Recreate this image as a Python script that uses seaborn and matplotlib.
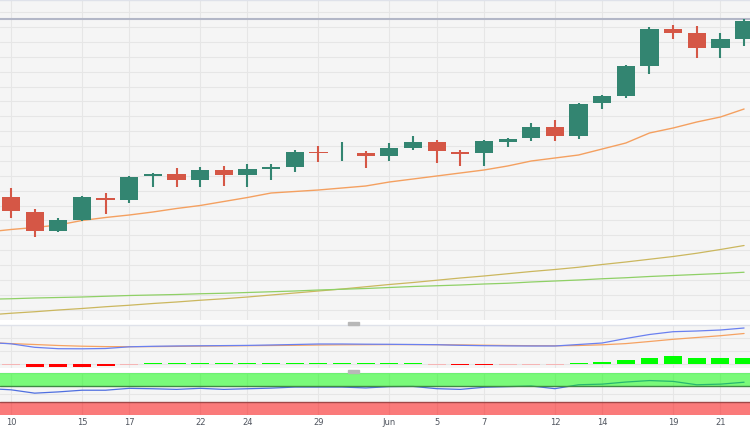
import numpy as np
import pandas as pd
import matplotlib
matplotlib.use("Agg")
import matplotlib.pyplot as plt
import seaborn as sns
from matplotlib.patches import Rectangle

# ---------------- data ----------------
dates = ["2023-05-10", "2023-05-11", "2023-05-12", "2023-05-15", "2023-05-16", "2023-05-17",
         "2023-05-18", "2023-05-19", "2023-05-22", "2023-05-23", "2023-05-24", "2023-05-25",
         "2023-05-26", "2023-05-29", "2023-05-30", "2023-05-31", "2023-06-01", "2023-06-02",
         "2023-06-05", "2023-06-06", "2023-06-07", "2023-06-08", "2023-06-09", "2023-06-12",
         "2023-06-13", "2023-06-14", "2023-06-15", "2023-06-16", "2023-06-19", "2023-06-20",
         "2023-06-21", "2023-06-22"]
tick_dates = ["2023-05-10", "2023-05-15", "2023-05-17", "2023-05-22", "2023-05-24", "2023-05-29",
              "2023-06-01", "2023-06-05", "2023-06-07", "2023-06-12", "2023-06-14", "2023-06-19",
              "2023-06-21"]
tick_labels = ["10", "15", "17", "22", "24", "29", "Jun", "5", "7", "12", "14", "19", "21"]

opens = [135.32, 134.72, 133.96, 134.40, 135.28, 135.20, 136.16, 136.24, 136.00, 136.40, 136.20,
         136.44, 136.52, 137.12, 137.08, 137.08, 136.96, 137.28, 137.52, 137.12, 137.08, 137.52,
         137.68, 138.12, 137.76, 139.08, 139.36, 140.56, 142.04, 141.88, 141.28, 141.64]
highs = [135.68, 134.84, 134.48, 135.36, 135.48, 136.16, 136.28, 136.48, 136.52, 136.56, 136.64,
         136.64, 137.20, 137.36, 137.52, 137.16, 137.48, 137.76, 137.60, 137.20, 137.60, 137.68,
         138.28, 138.40, 139.08, 139.40, 140.60, 142.12, 142.20, 142.16, 141.88, 142.44]
lows = [134.48, 133.72, 133.92, 134.36, 134.64, 135.08, 135.72, 135.72, 135.72, 135.76, 135.72,
        136.00, 136.32, 136.72, 136.76, 136.48, 136.76, 137.20, 136.68, 136.56, 136.56, 137.32,
        137.56, 137.56, 137.64, 138.84, 139.28, 140.24, 141.64, 140.88, 140.88, 141.36]
closes = [134.76, 133.96, 134.40, 135.32, 135.20, 136.12, 136.24, 136.00, 136.40, 136.20, 136.44,
          136.52, 137.12, 137.08, 137.10, 136.96, 137.28, 137.52, 137.16, 137.04, 137.56, 137.64,
          138.12, 137.76, 139.04, 139.36, 140.56, 142.04, 141.88, 141.28, 141.64, 142.36]

resistance = 142.45

# indicator series start one session earlier (2023-05-09)
ind_dates = ["2023-05-09"] + dates
sma20 = [133.92, 134.02, 134.10, 134.20, 134.38, 134.50, 134.60, 134.72, 134.86, 134.98, 135.14,
         135.30, 135.48, 135.54, 135.60, 135.68, 135.76, 135.92, 136.04, 136.16, 136.28, 136.40,
         136.56, 136.76, 136.88, 137.00, 137.24, 137.48, 137.88, 138.08, 138.32, 138.52, 138.84]
sma200 = [131.23, 131.25, 131.28, 131.30, 131.32, 131.35, 131.38, 131.40, 131.42, 131.45, 131.47,
          131.50, 131.53, 131.56, 131.60, 131.63, 131.66, 131.70, 131.74, 131.77, 131.80, 131.84,
          131.87, 131.92, 131.96, 132.00, 132.05, 132.09, 132.14, 132.18, 132.22, 132.26, 132.31]
sma100 = [130.60, 130.67, 130.73, 130.80, 130.86, 130.93, 130.99, 131.06, 131.12, 131.19, 131.25,
          131.32, 131.40, 131.48, 131.56, 131.64, 131.73, 131.82, 131.90, 131.99, 132.08, 132.16,
          132.25, 132.34, 132.42, 132.51, 132.62, 132.72, 132.83, 132.94, 133.07, 133.22, 133.38]
macd_line = [1.09, 1.025, 0.85, 0.78, 0.775, 0.79, 0.875, 0.90, 0.915, 0.925, 0.935, 0.945, 0.965,
             0.99, 1.015, 1.015, 1.005, 1.00, 0.99, 0.98, 0.95, 0.93, 0.92, 0.915, 0.915, 0.99,
             1.065, 1.29, 1.49, 1.63, 1.665, 1.715, 1.815]
signal_line = [1.09, 1.035, 0.99, 0.94, 0.905, 0.885, 0.88, 0.885, 0.895, 0.91, 0.92, 0.93, 0.94,
               0.95, 0.965, 0.975, 0.98, 0.985, 0.985, 0.98, 0.97, 0.955, 0.94, 0.93, 0.925, 0.94,
               0.975, 1.035, 1.14, 1.25, 1.34, 1.43, 1.54]
macd_hist = [-0.01, -0.12, -0.15, -0.115, -0.085, -0.02, 0.045, 0.045, 0.05, 0.05, 0.045, 0.05,
             0.05, 0.085, 0.085, 0.05, 0.045, 0.045, -0.02, -0.055, -0.055, -0.02, -0.02, -0.02,
             0.06, 0.10, 0.20, 0.335, 0.40, 0.335, 0.30, 0.30]
rsi = [63, 60, 52, 55, 59, 59, 63.5, 62.5, 61, 63.5, 61, 62.5, 64, 66.5, 66.5, 66.5, 64.5, 67.5, 68,
       62.7, 61, 66, 67.5, 69, 62.7, 72, 73.5, 78.5, 82, 80, 72, 73.5, 78]

# ---------------- frames ----------------
df = pd.DataFrame({"date": dates, "open": opens, "high": highs, "low": lows, "close": closes,
                   "hist": macd_hist})
df["pos"] = np.arange(len(df))
ind = pd.DataFrame({"date": ind_dates, "sma20": sma20, "sma100": sma100, "sma200": sma200,
                    "macd": macd_line, "signal": signal_line, "rsi": rsi})
ind["pos"] = np.arange(len(ind)) - 1
pos_of = {d: i for i, d in enumerate(dates)}
tick_pos = [pos_of[d] for d in tick_dates]

# ---------------- style ----------------
sns.set_style("whitegrid")
plt.rcParams["font.family"] = ["DejaVu Sans"]
PANEL_BG = "#f5f5f5"
GRID = "#e6e6e6"
GREEN = "#338571"
RED = "#d55746"

W, H = 750, 430
fig = plt.figure(figsize=(7.5, 4.3), dpi=100, facecolor="white")


def pax(top_px, bottom_px):
    return fig.add_axes([0, 1 - bottom_px / H, 1, (bottom_px - top_px) / H])


ax1 = pax(0, 320)
ax2 = pax(325, 368)
ax3 = pax(373, 415)

XMIN, XMAX = -0.465, 31.25
for ax in (ax1, ax2, ax3):
    ax.set_facecolor(PANEL_BG)
    ax.set_xlim(XMIN, XMAX)
    ax.set_xticks(tick_pos)
    ax.grid(True, color=GRID, linewidth=0.8)
    ax.set_axisbelow(True)
    for s in ("left", "right", "bottom"):
        ax.spines[s].set_visible(False)
    ax.spines["top"].set_color("#dfe2ea")
    ax.spines["top"].set_linewidth(1.0)
    ax.tick_params(length=0, labelleft=False, labelbottom=False)

# ---------------- main panel ----------------
ax1.set_ylim(130.4, 143.2)
ax1.set_yticks(np.arange(142.71, 130.4, -0.595))
ax1.axhline(resistance, color="#b3b7c7", linewidth=1.5, zorder=2)

sns.lineplot(data=ind, x="pos", y="sma100", ax=ax1, color="#cbb75e", linewidth=0.9,
             estimator=None, sort=False, zorder=3)
sns.lineplot(data=ind, x="pos", y="sma200", ax=ax1, color="#8fd066", linewidth=0.9,
             estimator=None, sort=False, zorder=3)
sns.lineplot(data=ind, x="pos", y="sma20", ax=ax1, color="#f4a060", linewidth=1.0,
             estimator=None, sort=False, zorder=3)

up = df["close"] >= df["open"]
ccol = np.where(up, GREEN, RED)
ax1.vlines(df["pos"], df["low"], df["high"], colors=ccol, linewidth=1.5, zorder=4)
ax1.bar(df["pos"], df["close"] - df["open"], bottom=df["open"], width=0.77, color=ccol,
        linewidth=0, zorder=5)

# ---------------- MACD panel ----------------
ax2.set_ylim(-0.185, 1.965)
ax2.set_yticks([0.0, 0.65, 1.3])
hist = df["hist"]
hcol = np.where(hist >= 0, "#00ff00", np.where(hist > -0.03, "#f5b5b5", "#ff0000"))
ax2.bar(df["pos"], hist, width=0.76, color=hcol, linewidth=0, zorder=3)
sns.lineplot(data=ind, x="pos", y="signal", ax=ax2, color="#f5a262", linewidth=0.9,
             estimator=None, sort=False, zorder=4)
sns.lineplot(data=ind, x="pos", y="macd", ax=ax2, color="#6a80f0", linewidth=0.9,
             estimator=None, sort=False, zorder=4)

# ---------------- RSI panel ----------------
ax3.set_ylim(0, 100)
ax3.set_yticks([50])
sns.lineplot(data=ind, x="pos", y="rsi", ax=ax3, color="#4f6fe0", linewidth=0.9,
             estimator=None, sort=False, zorder=3)
ax3.axhspan(70, 100, color="#00ff00", alpha=0.5, linewidth=0, zorder=4)
ax3.axhspan(0, 30, color="#ff0000", alpha=0.5, linewidth=0, zorder=4)
ax3.axhline(70, color="#3f8a45", linewidth=1.0, zorder=5)
ax3.axhline(30, color="#a04848", linewidth=1.0, zorder=5)

ax3.set_xticks(tick_pos)
ax3.set_xticklabels(tick_labels)
ax3.tick_params(labelbottom=True, labelsize=6, colors="#50555f", pad=2.5)

for ax in (ax1, ax2, ax3):
    ax.set_xlabel("")
    ax.set_ylabel("")
    leg = ax.get_legend()
    if leg:
        leg.remove()

# panel separator handles
for top_px in (321.7, 369.5):
    fig.add_artist(Rectangle((348 / W, 1 - (top_px + 3) / H), 11 / W, 3 / H,
                             transform=fig.transFigure, color="#b8b8b8", zorder=10))

fig.savefig("out.png", dpi=100, facecolor="white")
